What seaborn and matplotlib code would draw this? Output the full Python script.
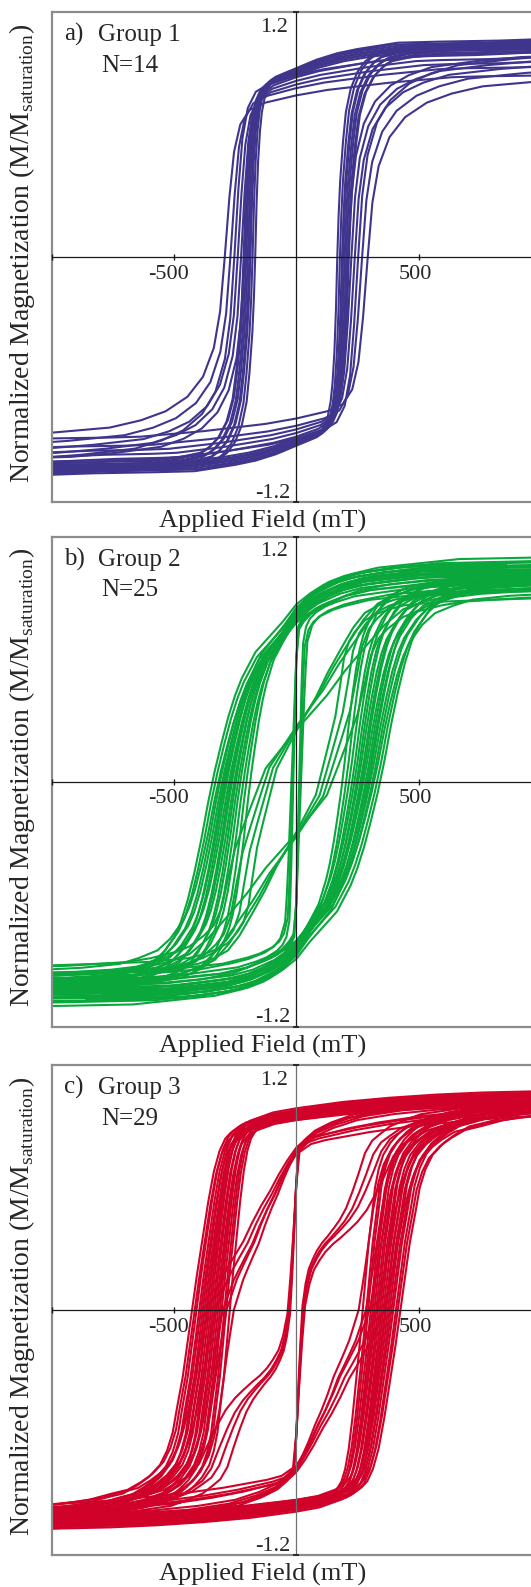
import numpy as np
import pandas as pd
import matplotlib.pyplot as plt
import seaborn as sns

sns.set_theme(style="white")
plt.rcParams['font.family'] = ['Liberation Serif', 'DejaVu Serif']
plt.rcParams['mathtext.fontset'] = 'custom'
plt.rcParams['mathtext.rm'] = 'Liberation Serif'

# descending branch of a typical loop in each group (field in mT, M/Ms),
# the ascending branch is the point-symmetric copy
g1_field = [1300, 1000, 700, 500, 300, 200, 100, 0, -50, -100, -130, -150, -165, -180, -190, -200, -208, -215,
            -222, -230, -245, -260, -285, -320, -360, -400, -500, -600, -800, -1000, -1300]
g1_mag = [1.03, 1.02, 1.015, 1.01, 0.98, 0.96, 0.93, 0.89, 0.87, 0.85, 0.83, 0.8, 0.76, 0.69, 0.6, 0.45, 0.25, 0.0,
          -0.2, -0.36, -0.55, -0.69, -0.8, -0.88, -0.93, -0.96, -0.985, -1.0, -1.005, -1.01, -1.02]
g1_broad_field = [1300, 1000, 800, 600, 500, 400, 300, 200, 100, 0, -100, -150, -180, -200, -215, -230, -245, -265,
                  -300, -350, -420, -500, -600, -800, -1000, -1300]
g1_broad_mag = [1.02, 1.01, 1.0, 0.995, 0.99, 0.975, 0.96, 0.94, 0.92, 0.89, 0.85, 0.81, 0.73, 0.58, 0.33, 0.0, -0.3,
                -0.5, -0.66, -0.77, -0.85, -0.9, -0.94, -0.97, -0.99, -1.0]

g2_main_field = [1300, 1000, 800, 600, 450, 300, 200, 100, 50, 0, -50, -100, -150, -200, -225, -250, -275, -300,
                 -325, -350, -375, -400, -425, -450, -500, -550, -625, -700, -850, -1000, -1300]
g2_main_mag = [1.045, 1.04, 1.035, 1.03, 1.01, 0.99, 0.96, 0.91, 0.87, 0.82, 0.74, 0.67, 0.6, 0.48, 0.4, 0.3, 0.18, 0.05,
               -0.1, -0.27, -0.42, -0.55, -0.65, -0.72, -0.81, -0.87, -0.91, -0.94, -0.96, -0.97, -0.98]
g2_pinch_field = [1300, 1000, 800, 600, 450, 300, 200, 150, 100, 60, 30, 10, 0, -5, -10, -15, -20, -25, -30, -35,
                  -50, -70, -100, -150, -200, -300, -450, -600, -800, -1000, -1300]
g2_pinch_mag = [1.03, 1.02, 1.01, 1.0, 0.98, 0.96, 0.93, 0.9, 0.87, 0.84, 0.8, 0.76, 0.6, 0.4, 0.2, 0.0, -0.2, -0.4,
                -0.56, -0.68, -0.76, -0.8, -0.83, -0.86, -0.88, -0.91, -0.93, -0.95, -0.96, -0.97, -0.98]
g2_diag_field = [1300, 1000, 850, 700, 600, 500, 420, 350, 290, 229, 160, 100, 50, 0, -50, -100, -134, -170, -200,
                 -225, -244, -270, -300, -350, -400, -475, -550, -750, -1000, -1300]
g2_diag_mag = [1.02, 1.01, 1.005, 1.0, 0.99, 0.97, 0.94, 0.9, 0.82, 0.71, 0.58, 0.45, 0.36, 0.27, 0.17, 0.07, -0.07,
               -0.22, -0.35, -0.52, -0.66, -0.75, -0.8, -0.86, -0.89, -0.92, -0.94, -0.96, -0.97, -0.98]

g3_main_field = [1300, 1000, 800, 600, 400, 200, 0, -100, -150, -200, -230, -250, -270, -290, -310, -330, -350, -367,
                 -385, -400, -420, -435, -455, -480, -520, -560, -610, -670, -750, -850, -1000, -1300]
g3_main_mag = [1.05, 1.04, 1.035, 1.025, 1.01, 0.99, 0.96, 0.94, 0.92, 0.9, 0.87, 0.84, 0.78, 0.68, 0.53, 0.35, 0.17, 0.0,
               -0.18, -0.33, -0.48, -0.6, -0.69, -0.76, -0.82, -0.86, -0.9, -0.92, -0.95, -0.97, -0.99, -1.0]
g3_waist_field = [1300, 1000, 800, 600, 400, 250, 100, 50, 11, 0, -10, -20, -30, -45, -60, -80, -99, -125, -150, -180,
                  -208, -240, -270, -300, -331, -365, -400, -450, -520, -600, -800, -1000, -1300]
g3_waist_mag = [1.0, 0.99, 0.97, 0.95, 0.92, 0.89, 0.85, 0.83, 0.79, 0.62, 0.38, 0.16, -0.02, -0.13, -0.2, -0.25, -0.29,
                -0.33, -0.36, -0.4, -0.44, -0.5, -0.58, -0.67, -0.77, -0.83, -0.86, -0.9, -0.93, -0.96, -0.99, -1.02, -1.03]
g3_shoulder_field = [1300, 1000, 800, 600, 400, 250, 150, 80, 40, 0, -30, -60, -90, -120, -150, -180, -210, -235, -255,
                     -270, -285, -300, -315, -330, -350, -370, -395, -420, -460, -500, -570, -650, -800, -1000, -1300]
g3_shoulder_mag = [1.03, 1.02, 1.015, 1.005, 0.98, 0.95, 0.91, 0.87, 0.83, 0.78, 0.72, 0.65, 0.57, 0.5, 0.42, 0.33, 0.26,
                   0.2, 0.15, 0.1, 0.05, 0.0, -0.1, -0.2, -0.35, -0.5, -0.63, -0.72, -0.8, -0.85, -0.9, -0.93, -0.97,
                   -0.99, -1.0]

# per loop: shape, field scale (coercivity relative to the typical loop), saturation
g1_shape = ['main'] * 8 + ['broad'] * 6
g1_scale = [0.78, 0.83, 0.87, 0.89, 0.92, 0.95, 0.98, 1.0,
            0.92, 0.98, 1.04, 1.1, 1.17, 1.27]
g1_sat = [1.03, 1.04, 1.02, 1.03, 1.01, 1.02, 1.0, 1.01,
          0.99, 0.97, 0.95, 1.0, 0.93, 0.89]

g2_shape = ['main'] * 18 + ['pinch'] * 3 + ['diag'] * 4
g2_scale = [0.61, 0.66, 0.70, 0.74, 0.77, 0.80, 0.82, 0.85, 0.87, 0.89, 0.92, 0.94, 0.96, 0.98, 1.01, 1.03, 1.07, 1.11,
            0.8, 1.0, 1.3,
            0.8, 0.95, 1.1, 1.25]
g2_sat = [1.0, 1.02, 0.98, 1.01, 0.99, 1.03, 0.97, 1.0, 1.02, 0.96, 1.01, 0.99, 1.04, 0.98, 1.0, 0.95, 1.02, 1.06,
          1.0, 0.98, 1.01,
          0.92, 0.97, 1.0, 0.94]

g3_shape = ['main'] * 20 + ['waist'] * 4 + ['shoulder'] * 5
g3_scale = [0.74, 0.78, 0.80, 0.83, 0.85, 0.87, 0.89, 0.91, 0.93, 0.95, 0.97, 0.99, 1.0, 1.02, 1.04, 1.06, 1.08, 1.11, 1.13, 1.16,
            0.85, 0.95, 1.05, 1.2,
            0.85, 0.95, 1.0, 1.1, 1.2]
g3_sat = [1.0, 0.99, 1.01, 0.98, 1.02, 1.0, 0.97, 1.01, 0.99, 1.03, 1.0, 0.98, 1.01, 0.99, 1.02, 0.97, 1.0, 1.01, 0.98, 1.0,
          1.0, 0.99, 1.01, 0.98,
          0.99, 1.01, 0.98, 1.0, 1.02]

shapes = {
    'main1': (g1_field, g1_mag), 'broad1': (g1_broad_field, g1_broad_mag),
    'main2': (g2_main_field, g2_main_mag), 'pinch2': (g2_pinch_field, g2_pinch_mag), 'diag2': (g2_diag_field, g2_diag_mag),
    'main3': (g3_main_field, g3_main_mag), 'waist3': (g3_waist_field, g3_waist_mag), 'shoulder3': (g3_shoulder_field, g3_shoulder_mag),
}


def build_loops(shape, scale, sat, suffix):
    rows = []
    for i, (s, k, ms) in enumerate(zip(shape, scale, sat)):
        h, m = shapes[s + suffix]
        h = np.array(h) * k
        m = np.array(m) * ms
        # descending branch, then the ascending one (point symmetric)
        hh = np.concatenate([h, -h])
        mm = np.concatenate([m, -m])
        rows.append(pd.DataFrame({'field': hh, 'mag': mm, 'loop': i}))
    return pd.concat(rows, ignore_index=True)


panels = [
    (build_loops(g1_shape, g1_scale, g1_sat, '1'), '#40358d', 'a)', 'Group 1', 'N=14', 'k'),
    (build_loops(g2_shape, g2_scale, g2_sat, '2'), '#0aa83c', 'b)', 'Group 2', 'N=25', 'k'),
    (build_loops(g3_shape, g3_scale, g3_sat, '3'), '#d0022a', 'c)', 'Group 3', 'N=29', '#707070'),
]

fig = plt.figure(figsize=(5.31, 15.87), dpi=100)
H = 1587.0
tops = [12.2, 537.0, 1065.2]
ax_h = 489.5
xticks = [-1000, -500, 500, 1000]

for (df, color, tag, group, count, vcol), top in zip(panels, tops):
    ax = fig.add_axes([51.5 / 531, (H - top - ax_h) / H, 489.5 / 531, ax_h / H])
    sns.lineplot(data=df, x='field', y='mag', units='loop', estimator=None, sort=False,
                 color=color, lw=1.5, ax=ax, legend=False)
    ax.set_xlim(-1000, 1000)
    ax.set_ylim(-1.2, 1.2)
    ax.set_xticks([])
    ax.set_yticks([])
    ax.set_xlabel('')
    ax.set_ylabel('')
    for sp in ax.spines.values():
        sp.set_color('#8c8c8c')
        sp.set_linewidth(1.6)
    ax.axhline(0, color='k', lw=0.9, zorder=3)
    ax.axvline(0, color=vcol, lw=0.9, zorder=3)
    ax.plot(xticks, [0] * len(xticks), ls='none', marker='|', ms=5, mew=1.0, color='k', zorder=3, clip_on=False)
    ax.plot([0, 0], [-1.2, 1.2], ls='none', marker='_', ms=5, mew=1.2, color='k', zorder=3, clip_on=False)

    ax.text(-520, -0.106, '-500', ha='center', va='baseline', fontsize=16)
    ax.text(485, -0.106, '500', ha='center', va='baseline', fontsize=16)
    ax.text(-32, 1.105, '1.2', ha='right', va='baseline', fontsize=16)
    ax.text(-25, -1.18, '-1.2', ha='right', va='baseline', fontsize=16)

    ax.text(-950, 1.059, tag, ha='left', va='baseline', fontsize=18)
    ax.text(-812, 1.059, group, ha='left', va='baseline', fontsize=18)
    ax.text(-795, 0.909, count, ha='left', va='baseline', fontsize=18)

    fig.text(263 / 531, 1 - (top + ax_h + 20) / H, 'Applied Field (mT)', ha='center', va='center', fontsize=19)
    fig.text(22 / 531, 1 - (top + ax_h / 2 - 4) / H, r'Normalized Magnetization (M/M$_{\mathrm{saturation}}$)',
             rotation=90, ha='center', va='center', fontsize=20)

fig.savefig('out.png', dpi=100)
